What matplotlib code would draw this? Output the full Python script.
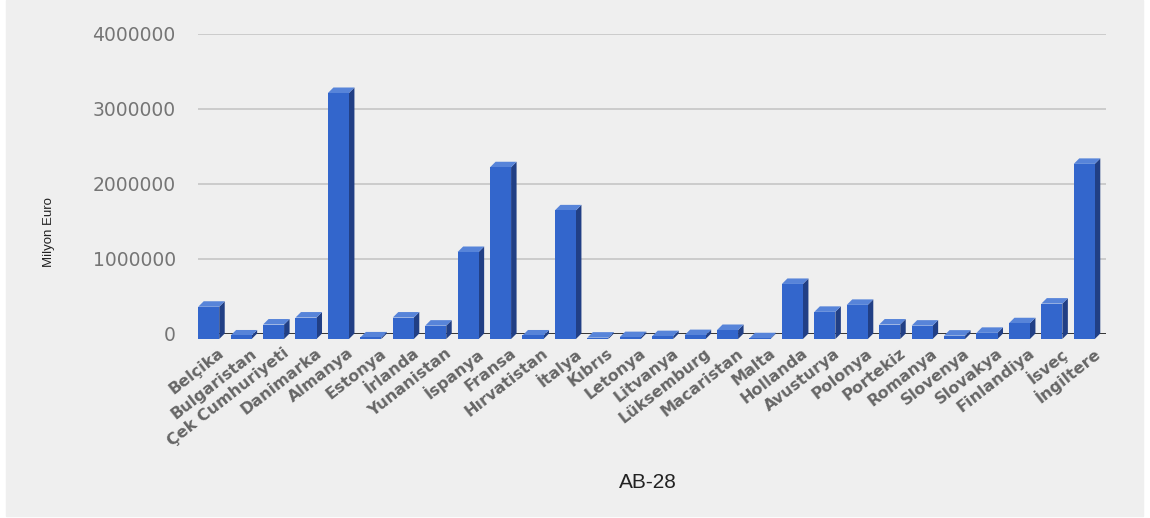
import matplotlib
matplotlib.use("Agg")
import matplotlib.pyplot as plt
from matplotlib.patches import Polygon, Rectangle

plt.rcParams['font.family'] = ['Liberation Sans', 'DejaVu Sans']

countries = ['Belçika', 'Bulgaristan', 'Çek Cumhuriyeti', 'Danimarka', 'Almanya',
             'Estonya', 'İrlanda', 'Yunanistan', 'İspanya', 'Fransa', 'Hırvatistan',
             'İtalya', 'Kıbrıs', 'Letonya', 'Litvanya', 'Lüksemburg', 'Macaristan',
             'Malta', 'Hollanda', 'Avusturya', 'Polonya', 'Portekiz', 'Romanya',
             'Slovenya', 'Slovakya', 'Finlandiya', 'İsveç', 'İngiltere']
gdp = [430000, 47000, 193000, 286000, 3280000,
       21000, 286000, 178000, 1160000, 2290000, 47000,
       1715000, 18000, 25000, 38000, 52000, 120000,
       10000, 734000, 362000, 455000, 193000, 178000,
       45000, 82000, 210000, 472000, 2335000]
yticks = [0, 1000000, 2000000, 3000000, 4000000]
ytick_labels = ['0', '1000000', '2000000', '3000000', '4000000']

front = '#3366cc'
side = '#213f85'
top = '#5784d9'

fig = plt.figure(figsize=(11.5, 5.18), dpi=100)
fig.patches.append(Rectangle((6 / 1150, 0.004), 1137 / 1150, 0.996,
                             transform=fig.transFigure, color='#efefef', zorder=-10))

ax = fig.add_axes([198 / 1150, (518 - 333.5) / 518, 908 / 1150, 300 / 518])
ax.set_facecolor('none')
n = len(countries)
ymax = 4000000
ax.set_xlim(-0.5, n - 0.5)
ax.set_ylim(0, ymax)
for s in ax.spines.values():
    s.set_visible(False)

# depth of the fake 3d effect, in pixels -> data units
depth = 5.5
dx = depth * n / 908
dy = depth * ymax / 300

for t in yticks[1:]:
    ax.axhline(t, color='#cccccc', lw=1.4, zorder=1)
ax.axhline(0, color='#333333', lw=1.4, zorder=1)

w = 0.648
for i, v in enumerate(gdp):
    l, r = i - w / 2, i + w / 2
    ax.add_patch(Polygon([(r - dx, -dy), (r - dx, v - dy), (r, v), (r, 0)],
                         closed=True, facecolor=side, edgecolor='none',
                         zorder=3, clip_on=False))
    ax.add_patch(Polygon([(l - dx, v - dy), (r - dx, v - dy), (r, v), (l, v)],
                         closed=True, facecolor=top, edgecolor='none',
                         zorder=3, clip_on=False))
ax.bar([i - dx for i in range(n)], gdp, width=w, bottom=-dy, color=front,
       zorder=4, clip_on=False)

ax.set_yticks(yticks, labels=ytick_labels)
ax.tick_params(axis='y', length=0, pad=16, labelsize=13.5, labelcolor='#757575')
for lab in ax.get_yticklabels():
    lab.set_family('DejaVu Sans')
ax.set_xticks([])

for i, name in enumerate(countries):
    ax.text(i + 0.25, -0.06 * ymax, name, rotation=38, rotation_mode='anchor',
            ha='right', va='center', fontsize=11.5, fontweight='bold',
            color='#666666', family=['DejaVu Sans'])

fig.text(49 / 1150, 1 - 232 / 518, 'Milyon Euro', rotation=90, ha='center',
         va='center', fontsize=9.5, color='#222222')
fig.text(648 / 1150, 1 - 483 / 518, 'AB-28', ha='center', va='center',
         fontsize=15, color='#222222')

fig.savefig('out.png', dpi=100)
